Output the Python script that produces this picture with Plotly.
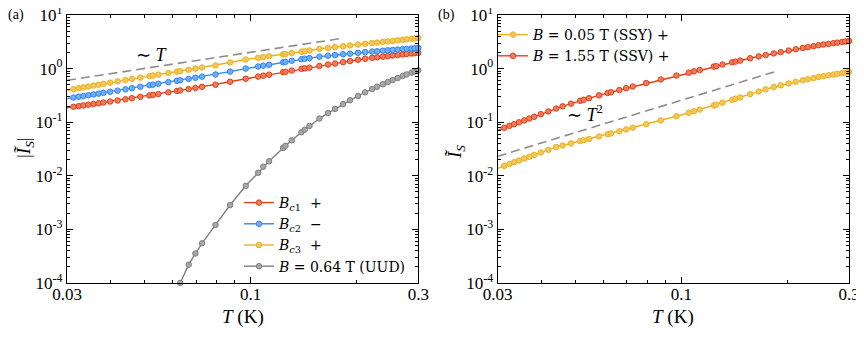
import plotly.graph_objects as go

# ---------------- data ----------------
T = [0.0300, 0.0313, 0.0324, 0.0334, 0.0345, 0.0357, 0.0369, 0.0381, 0.0398, 0.0418,
     0.0440, 0.0459, 0.0485, 0.0515, 0.0527, 0.0546, 0.0583, 0.0617, 0.0630, 0.0666,
     0.0696, 0.0727, 0.0794, 0.0874, 0.0968, 0.1050, 0.1086, 0.1128, 0.1237, 0.1256,
     0.1309, 0.1395, 0.1425, 0.1470, 0.1569, 0.1660, 0.1738, 0.1832, 0.1918, 0.2021,
     0.2117, 0.2217, 0.2290, 0.2378, 0.2456, 0.2537, 0.2621, 0.2708, 0.2779, 0.2870,
     0.2929, 0.3000]

bc1 = [0.186, 0.194, 0.200, 0.206, 0.212, 0.219, 0.226, 0.233, 0.243, 0.254,
       0.267, 0.280, 0.297, 0.316, 0.324, 0.336, 0.361, 0.383, 0.392, 0.415,
       0.436, 0.457, 0.501, 0.568, 0.646, 0.709, 0.738, 0.771, 0.859, 0.875,
       0.918, 0.989, 1.01, 1.04, 1.12, 1.19, 1.24, 1.32, 1.38, 1.46,
       1.53, 1.59, 1.63, 1.67, 1.71, 1.75, 1.79, 1.84, 1.87, 1.91,
       1.94, 1.97]

bc2 = [0.275, 0.288, 0.299, 0.308, 0.318, 0.330, 0.341, 0.353, 0.370, 0.388,
       0.410, 0.431, 0.458, 0.490, 0.502, 0.521, 0.559, 0.593, 0.605, 0.643,
       0.675, 0.708, 0.776, 0.879, 1.000, 1.094, 1.135, 1.18, 1.31, 1.33,
       1.40, 1.50, 1.53, 1.57, 1.67, 1.74, 1.79, 1.85, 1.90, 1.97,
       2.03, 2.08, 2.11, 2.15, 2.19, 2.23, 2.26, 2.31, 2.33, 2.37,
       2.40, 2.43]

bc3 = [0.394, 0.414, 0.431, 0.447, 0.464, 0.482, 0.500, 0.520, 0.547, 0.578,
       0.611, 0.640, 0.679, 0.724, 0.743, 0.770, 0.826, 0.877, 0.897, 0.951,
       1.000, 1.047, 1.148, 1.30, 1.48, 1.59, 1.64, 1.70, 1.85, 1.87,
       1.95, 2.07, 2.11, 2.18, 2.34, 2.43, 2.52, 2.61, 2.70, 2.81,
       2.90, 2.99, 3.06, 3.15, 3.22, 3.29, 3.37, 3.45, 3.52, 3.60,
       3.65, 3.72]

T_uud = T[18:]
uud = [1.0e-4, 2.2e-4, 3.55e-4, 5.5e-4, 1.21e-3, 2.85e-3, 6.5e-3, 0.0114, 0.0148, 0.0186,
       0.0331, 0.0363, 0.046, 0.065, 0.0725, 0.085, 0.117, 0.148, 0.177, 0.217,
       0.257, 0.309, 0.360, 0.416, 0.459, 0.512, 0.561, 0.612, 0.667, 0.730,
       0.778, 0.841, 0.883, 0.931]

ssy = [0.0138, 0.0153, 0.0166, 0.0179, 0.0193, 0.0210, 0.0226, 0.0245, 0.0272, 0.0305,
       0.0343, 0.0368, 0.0403, 0.0444, 0.0461, 0.0488, 0.0543, 0.0596, 0.0617, 0.0678,
       0.0733, 0.0789, 0.0914, 0.108, 0.129, 0.150, 0.160, 0.172, 0.205, 0.212,
       0.231, 0.262, 0.274, 0.290, 0.333, 0.373, 0.411, 0.454, 0.488, 0.528,
       0.568, 0.605, 0.633, 0.665, 0.697, 0.724, 0.749, 0.776, 0.798, 0.826,
       0.843, 0.865]

ssv = [0.0706, 0.0785, 0.0855, 0.0920, 0.0995, 0.108, 0.117, 0.126, 0.141, 0.159,
       0.180, 0.198, 0.222, 0.251, 0.262, 0.280, 0.317, 0.351, 0.363, 0.398,
       0.431, 0.463, 0.537, 0.628, 0.741, 0.841, 0.889, 0.942, 1.09, 1.11,
       1.19, 1.31, 1.35, 1.41, 1.56, 1.69, 1.79, 1.92, 2.03, 2.17,
       2.30, 2.42, 2.51, 2.62, 2.72, 2.81, 2.89, 2.98, 3.05, 3.15,
       3.21, 3.27]

guideT_x = [0.03, 0.183]
guideT_y = [0.605, 3.69]
guideT2_x = [0.03, 0.187]
guideT2_y = [0.0231, 0.899]

x_tickvals = [0.03, 0.1, 0.3]
x_ticktext = ["0.03", "0.1", "0.3"]
x_minor = [0.04, 0.05, 0.06, 0.07, 0.08, 0.09, 0.2]
y_tickvals = [1e-4, 1e-3, 1e-2, 1e-1, 1, 10]
y_ticktext = ["10<sup>-4</sup>", "10<sup>-3</sup>", "10<sup>-2</sup>",
              "10<sup>-1</sup>", "10<sup>0</sup>", "10<sup>1</sup>"]
y_minor = [m * 10.0 ** e for e in range(-4, 1) for m in range(2, 10)]

# ---------------- style ----------------
FONT = "Liberation Serif"
LFONT = "DejaVu Serif"
RED, RED_F = "#E2401B", "#EE7C5C"
BLUE, BLUE_F = "#2F86F2", "#72ADF6"
YEL, YEL_F = "#EDB120", "#F3C75C"
GRAY, GRAY_F = "#7F7F7F", "#A8A8A8"

# the page body adds an 8 px offset; lay out in screen pixels
W, H, OFF = 856, 332, 8


def X(s):
    return (s - OFF) / W


def Y(s):
    return 1 - (s - OFF) / H


fig = go.Figure()


def series(x, y, name, col, fcol, xa, ya, legend):
    fig.add_trace(go.Scatter(
        x=x, y=y, name=name, mode="lines+markers", xaxis=xa, yaxis=ya,
        legend=legend, cliponaxis=False,
        line=dict(color=col, width=1.4),
        marker=dict(symbol="circle", size=5.5, color=fcol,
                    line=dict(color=col, width=1.0))))


# panel (a)
fig.add_trace(go.Scatter(x=guideT_x, y=guideT_y, mode="lines", showlegend=False,
                         xaxis="x", yaxis="y",
                         line=dict(color="#8C8C8C", width=1.6, dash="9px,5px")))
series(T, bc1, "<i>B</i><sub><i>c</i>1</sub>  +", RED, RED_F, "x", "y", "legend")
series(T, bc2, "<i>B</i><sub><i>c</i>2</sub>  \u2212", BLUE, BLUE_F, "x", "y", "legend")
series(T, bc3, "<i>B</i><sub><i>c</i>3</sub>  +", YEL, YEL_F, "x", "y", "legend")
series(T_uud, uud, "<i>B</i> = 0.64 T (UUD)", GRAY, GRAY_F, "x", "y", "legend")

# panel (b)
fig.add_trace(go.Scatter(x=guideT2_x, y=guideT2_y, mode="lines", showlegend=False,
                         xaxis="x2", yaxis="y2",
                         line=dict(color="#8C8C8C", width=1.6, dash="9px,5px")))
series(T, ssy, "<i>B</i> = 0.05 T (SSY) +", YEL, YEL_F, "x2", "y2", "legend2")
series(T, ssv, "<i>B</i> = 1.55 T (SSV) +", RED, RED_F, "x2", "y2", "legend2")

ydom = [Y(283), Y(15)]


def xaxis(domain, anchor):
    return dict(type="log", domain=domain, anchor=anchor, automargin=False,
                range=[-1.5228787, -0.5228787],
                tickmode="array", tickvals=x_tickvals, ticktext=x_ticktext,
                ticks="inside", ticklen=6, tickwidth=1, tickcolor="black",
                ticklabeloverflow="allow", ticklabelstandoff=-5,
                showline=True, linecolor="black", linewidth=1.2, mirror="allticks",
                showgrid=False, zeroline=False,
                minor=dict(tickvals=x_minor, ticks="inside", ticklen=3,
                           tickwidth=1, tickcolor="black", showgrid=False),
                tickfont=dict(family=FONT, size=17, color="black"))


def yaxis(anchor):
    return dict(type="log", domain=ydom, anchor=anchor, range=[-4, 1],
                automargin=False, ticklabeloverflow="allow",
                tickmode="array", tickvals=y_tickvals, ticktext=y_ticktext,
                ticks="inside", ticklen=6, tickwidth=1, tickcolor="black",
                showline=True, linecolor="black", linewidth=1.2, mirror="allticks",
                showgrid=False, zeroline=False,
                minor=dict(tickvals=y_minor, ticks="inside", ticklen=3,
                           tickwidth=1, tickcolor="black", showgrid=False),
                tickfont=dict(family=FONT, size=17, color="black"))


legend_common = dict(xanchor="left", yanchor="top", bgcolor="rgba(0,0,0,0)",
                     borderwidth=0, itemwidth=30, tracegroupgap=0,
                     font=dict(family=LFONT, size=14, color="black"))


def pa(text, x, y, size=18, angle=0, family=FONT):
    return dict(text=text, x=X(x), y=Y(y), xref="paper", yref="paper",
                xanchor="center", yanchor="middle",
                showarrow=False, textangle=angle,
                font=dict(family=family, size=size, color="black"))


fig.update_layout(
    width=W, height=H, margin=dict(l=0, r=0, t=0, b=0),
    paper_bgcolor="white", plot_bgcolor="white",
    font=dict(family=FONT, size=17, color="black"),
    xaxis=xaxis([X(67), X(418.3)], "y"),
    yaxis=yaxis("x"),
    xaxis2=xaxis([X(497.7), X(849)], "y2"),
    yaxis2=yaxis("x2"),
    legend=dict(x=X(239), y=Y(187), **legend_common),
    legend2=dict(x=X(493), y=Y(19), **legend_common),
    annotations=[
        pa("(a)", 16, 15, 14),
        pa("(b)", 446, 15, 14),
        pa("|<i>\u0128</i><sub><i>S</i></sub>|", 25, 148, 19, -90),
        pa("<i>\u0128</i><sub><i>S</i></sub>", 456, 152, 19, -90),
        pa("<i>T</i> (K)", 243, 317, 19),
        pa("<i>T</i> (K)", 673, 317, 19),
        pa("\u223C <i>T</i>", 152, 55, 18),
        pa("\u223C <i>T</i><sup>2</sup>", 585, 114, 18),
    ],
)

fig.write_html("out.html")
